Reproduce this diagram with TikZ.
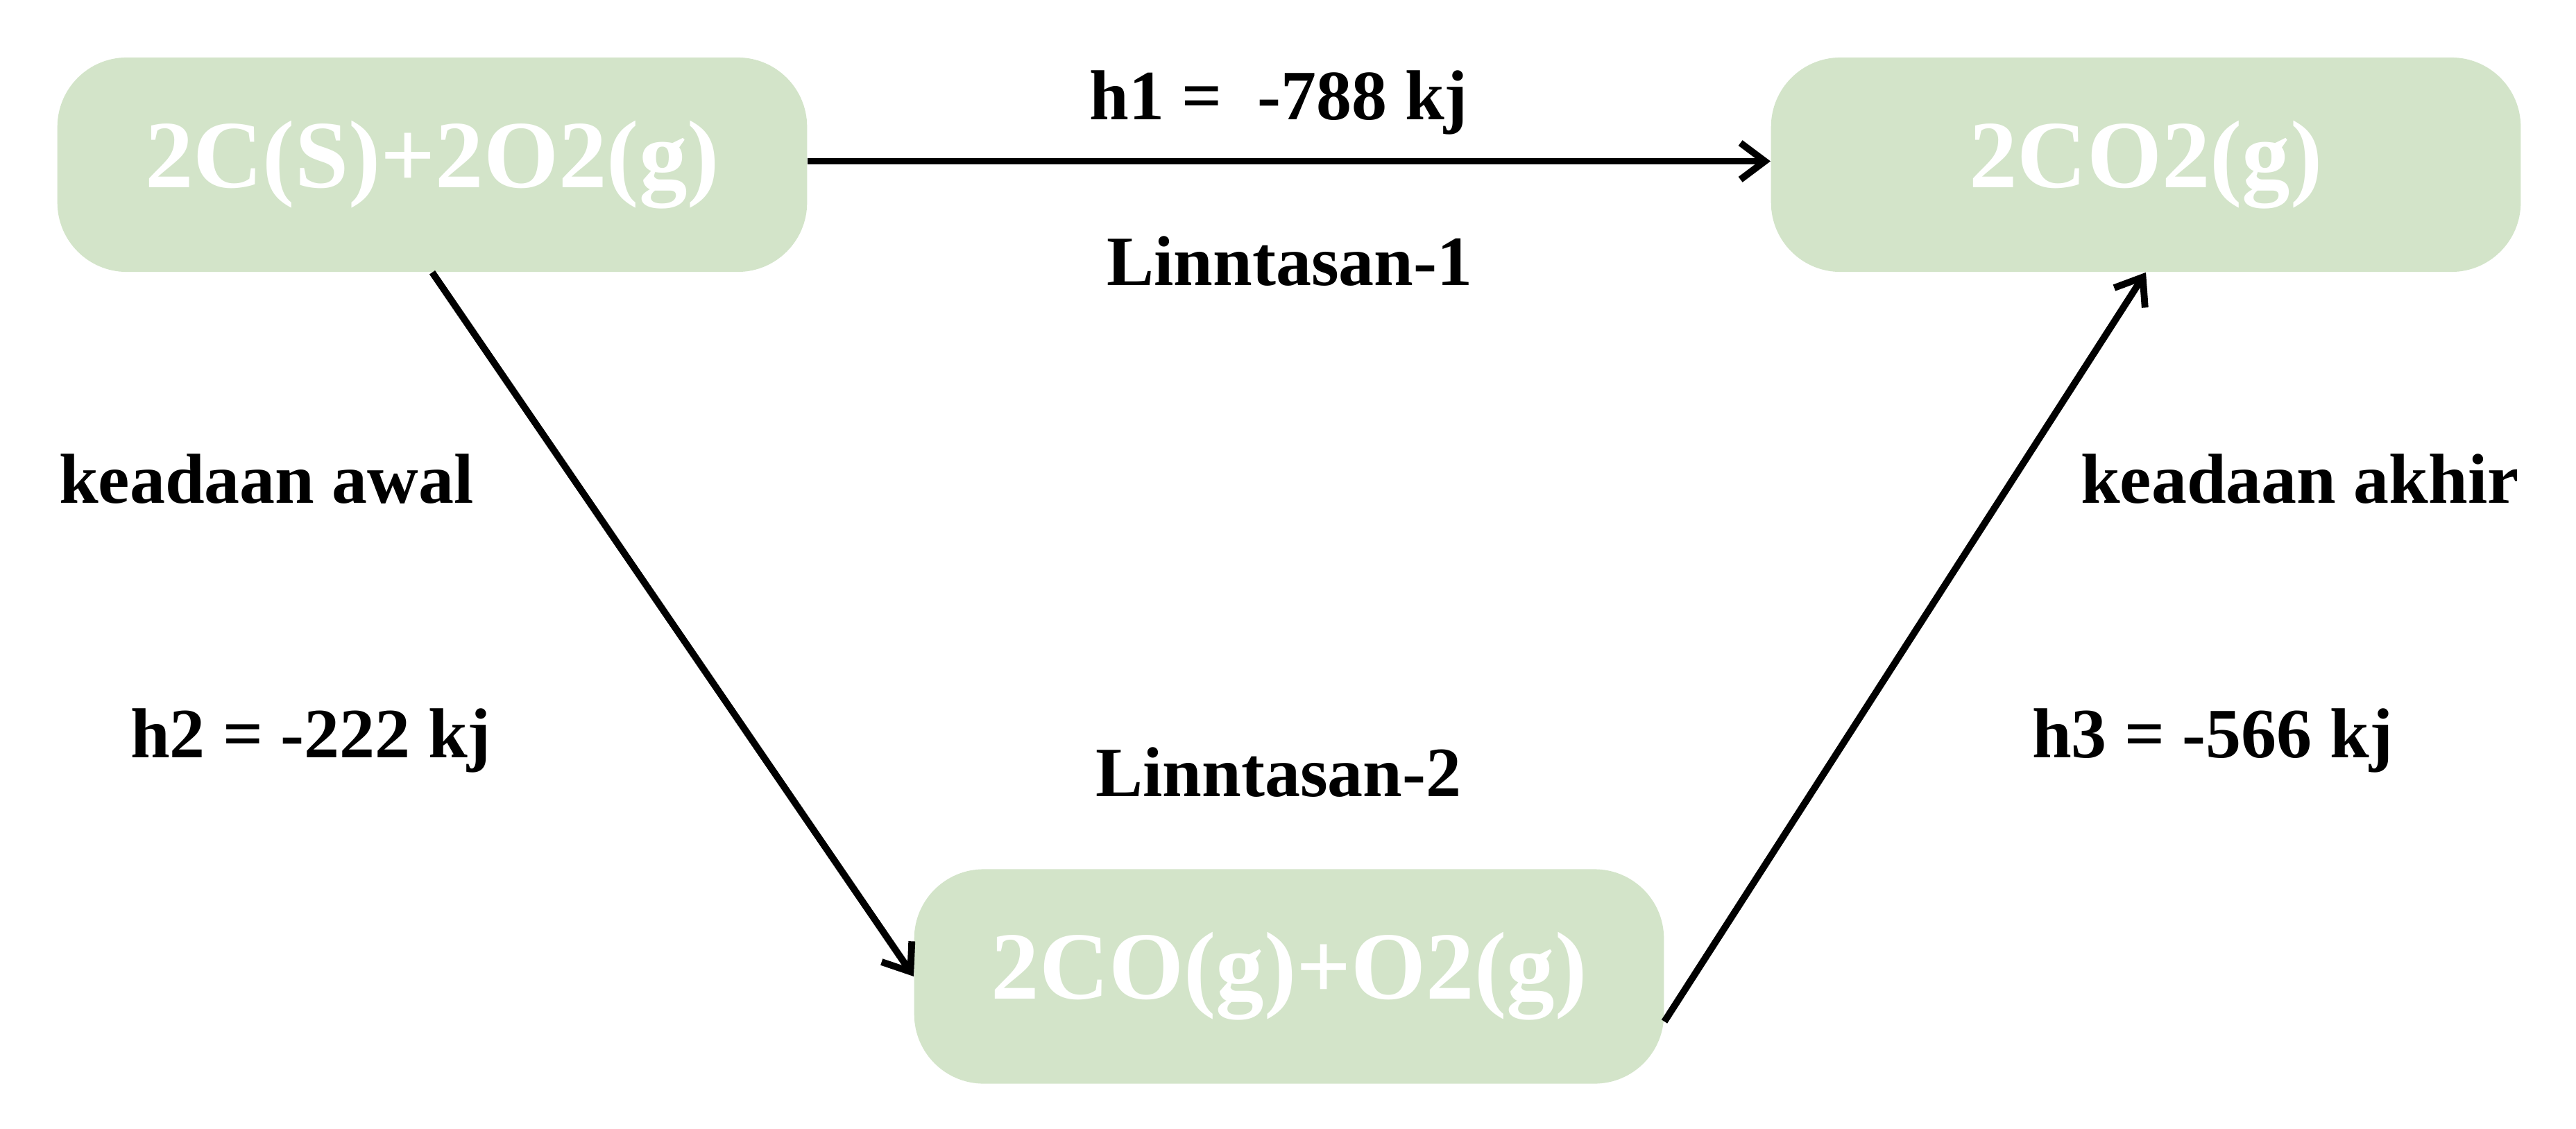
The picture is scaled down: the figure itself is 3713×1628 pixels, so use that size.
\documentclass[tikz,border=0pt]{standalone}
\usepackage{fontspec}
\setmainfont{Liberation Serif}
\usetikzlibrary{arrows.meta}
\definecolor{boxgreen}{HTML}{D3E4C9}
\begin{document}
\begin{tikzpicture}[x=0.01cm,y=-0.01cm,
  statebox/.style={fill=boxgreen, draw=none, rounded corners=1cm, minimum width=10.8cm, minimum height=3.09cm, text=white, font=\bfseries\fontsize{39.5}{44}\selectfont, inner sep=0pt},
  lbl/.style={anchor=base, font=\bfseries\fontsize{29}{33}\selectfont, inner sep=0pt},
  conn/.style={line width=2.8pt, -{Straight Barb[length=10pt,width=15pt,line width=2.8pt]}}]
\useasboundingbox (0,0) rectangle (3713,1628);
\node[statebox] (b1) at (623,237.5) {2C(S)+2O2(g)};
\node[statebox] (b2) at (3093,237.5) {2CO2(g)};
\node[statebox] (b3) at (1858,1408) {2CO(g)+O2(g)};
\node[lbl] (h1) at (1843,173) {h1 = \ -788 kj};
\node[lbl] (l1) at (1859,412) {Linntasan-1};
\node[lbl] (aw) at (384,725) {keadaan awal};
\node[lbl] (h2) at (448,1092) {h2 = -222 kj};
\node[lbl] (ak) at (3315,725) {keadaan akhir};
\node[lbl] (h3) at (3189,1092) {h3 = -566 kj};
\node[lbl] (l2) at (1843,1148) {Linntasan-2};
\draw[conn] ([yshift=0.05cm]b1.east) -- ([yshift=0.05cm]b2.west);
\draw[conn] (b1.south) -- (b3.west);
\draw[conn] ([yshift=-0.65cm]b3.east) -- (b2.south);
\end{tikzpicture}
\end{document}
